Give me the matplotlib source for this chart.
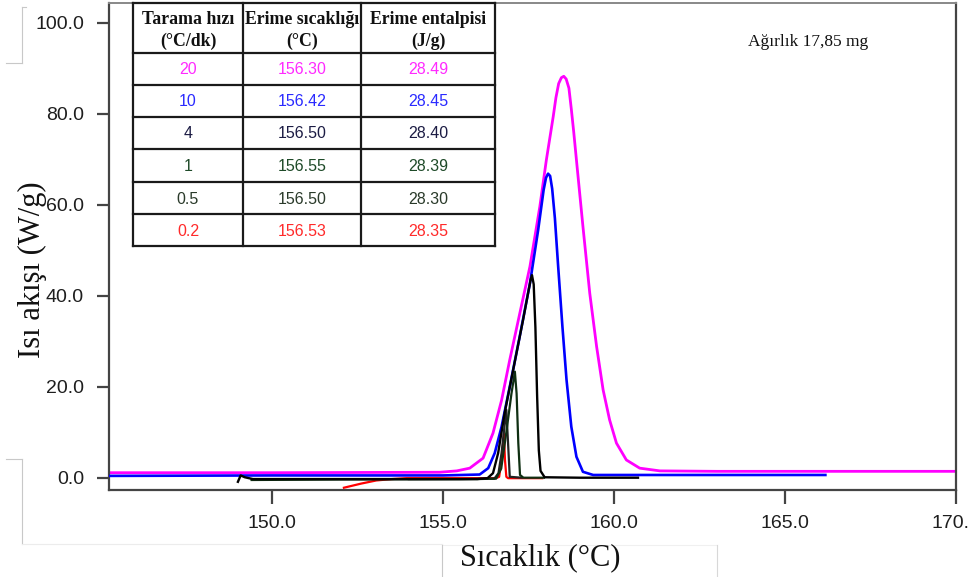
import matplotlib
matplotlib.use("Agg")
import matplotlib.pyplot as plt
from matplotlib.patches import Rectangle

# ---------------- data ----------------
# 20 °C/dk (magenta)
t20 = [145.23, 150.0, 154.9, 155.4, 155.78, 156.17, 156.46, 156.71, 156.95, 157.24, 157.54,
       157.83, 158.02, 158.22, 158.3, 158.38, 158.46, 158.53, 158.6, 158.68, 158.75, 158.82,
       158.9, 159.09, 159.29, 159.49, 159.68, 159.87, 160.07, 160.36, 160.75, 161.34, 163.0, 170.0]
q20 = [1.1, 1.1, 1.2, 1.5, 2.1, 4.3, 9.8, 17.0, 25.9, 36.0, 46.4,
       59.6, 69.8, 79.3, 83.5, 86.6, 87.9, 88.2, 87.6, 85.6, 81.0, 76.0,
       69.8, 55.2, 40.5, 28.8, 19.3, 12.7, 7.6, 3.9, 2.1, 1.5, 1.4, 1.4]
# 10 °C/dk (blue)
t10 = [145.23, 150.0, 155.0, 156.07, 156.32, 156.51, 156.71, 156.95, 157.24, 157.54, 157.78,
       157.94, 158.01, 158.07, 158.13, 158.19, 158.27, 158.36, 158.49, 158.61, 158.75, 158.9,
       159.09, 159.39, 162.0, 166.18]
q10 = [0.4, 0.5, 0.5, 0.7, 2.1, 5.4, 11.2, 20.0, 31.0, 42.7, 54.4,
       63.2, 65.9, 66.8, 66.3, 63.5, 57.0, 47.0, 33.2, 21.5, 11.2, 4.6,
       1.3, 0.6, 0.6, 0.6]
# 4 °C/dk (black)
t4 = [149.0, 149.08, 149.2, 149.44, 152.0, 156.0, 156.3, 156.46, 156.61, 156.8, 157.05,
      157.34, 157.56, 157.6, 157.65, 157.7, 157.75, 157.8, 157.85, 157.97, 159.0, 160.7]
q4 = [-0.9, 0.5, 0.1, -0.3, -0.3, -0.3, -0.1, 1.0, 5.4, 14.2, 23.7,
      34.7, 43.5, 44.5, 42.5, 33.0, 18.0, 6.0, 1.5, 0.1, 0.0, 0.0]
# 1 °C/dk (dark green)
t1 = [149.4, 152.0, 156.0, 156.55, 156.7, 156.85, 157.0, 157.1, 157.15, 157.2, 157.25,
      157.35, 157.95]
q1 = [-0.5, -0.4, -0.3, -0.2, 2.0, 10.0, 18.5, 23.3, 18.5, 7.6, 0.6,
      0.0, 0.0]
# 0.5 °C/dk (dark grey)
t05 = [154.0, 155.5, 156.5, 156.62, 156.71, 156.85, 156.9, 156.95, 157.3]
q05 = [-0.3, -0.3, -0.2, 1.0, 5.4, 14.9, 7.6, 0.2, 0.0]
# 0.2 °C/dk (red)
t02 = [152.1, 152.6, 153.05, 153.5, 153.93, 155.5, 156.55, 156.64, 156.71, 156.78, 156.81,
       156.85, 156.9, 157.9]
q02 = [-2.2, -1.3, -0.6, -0.3, -0.1, -0.1, -0.1, 0.2, 3.9, 9.6, 3.9,
       0.2, -0.1, -0.1]

# table contents
rates = ["20", "10", "4", "1", "0.5", "0.2"]
melt_temps = ["156.30", "156.42", "156.50", "156.55", "156.50", "156.53"]
melt_enth = ["28.49", "28.45", "28.40", "28.39", "28.30", "28.35"]
row_colors = ["#ff2aff", "#2a2aff", "#1c1c44", "#1e4a28", "#2a3a2a", "#ff2a2a"]

x_ticks = [150.0, 155.0, 160.0, 165.0, 170.0]
y_ticks = [0.0, 20.0, 40.0, 60.0, 80.0, 100.0]

# ---------------- figure ----------------
W, H = 969, 577
fig = plt.figure(figsize=(W / 100, H / 100), dpi=100)
fig.patch.set_facecolor("white")

ax_l, ax_r, ax_t, ax_b = 109, 956, 3, 490
ax = fig.add_axes([ax_l / W, 1 - ax_b / H, (ax_r - ax_l) / W, (ax_b - ax_t) / H])
ax.set_xlim(145.23, 170.0)
ax.set_ylim(-2.7, 104.3)

ax.plot(t20, q20, color="#ff00ff", lw=2.0, zorder=2)
ax.plot(t10, q10, color="#0000ff", lw=1.9, zorder=3)
ax.plot(t02, q02, color="#ff0000", lw=1.6, zorder=4)
ax.plot(t05, q05, color="#222222", lw=1.6, zorder=5)
ax.plot(t1, q1, color="#0f2f12", lw=1.6, zorder=5)
ax.plot(t4, q4, color="#000000", lw=1.7, zorder=6)

ax.set_xticks(x_ticks)
ax.set_xticklabels([f"{v:.1f}" for v in x_ticks])
ax.set_yticks(y_ticks)
ax.set_yticklabels([f"{v:.1f}" for v in y_ticks])
for lab in ax.get_xticklabels() + ax.get_yticklabels():
    lab.set_fontfamily("Liberation Sans")
    lab.set_fontsize(14)
    lab.set_color("#1e1e1e")
ax.tick_params(axis="x", direction="out", length=10, width=1.6, color="#444444", pad=8)
ax.tick_params(axis="y", direction="out", length=9, width=1.6, color="#444444", pad=9)
for side in ["left", "bottom", "right"]:
    ax.spines[side].set_color("#444444")
    ax.spines[side].set_linewidth(1.6)
ax.spines["top"].set_color("#888888")
ax.spines["top"].set_linewidth(1.4)

# ---------------- overlay in pixel coordinates ----------------
ov = fig.add_axes([0, 0, 1, 1], zorder=10)
ov.set_xlim(0, W)
ov.set_ylim(H, 0)
ov.axis("off")
ov.patch.set_alpha(0)

# axis titles
ov.text(540, 565, "Sıcaklık (°C)", family="Liberation Serif", fontsize=22,
        ha="center", va="baseline", color="#111111")
ov.text(32, 270, "Isı akışı (W/g)", family="Liberation Serif", fontsize=22,
        ha="center", va="center", rotation=90, color="#111111")
ov.text(748, 42, "Ağırlık 17,85 mg", family="Liberation Serif", fontsize=12.5,
        ha="left", va="center", color="#111111")

# table
col_x = [133, 243, 361, 495]
row_y = [3, 53, 85, 117, 149, 182, 214, 246]
ov.add_patch(Rectangle((col_x[0], row_y[0]), col_x[-1] - col_x[0], row_y[-1] - row_y[0],
                       facecolor="white", edgecolor="none", zorder=1))
for x in col_x:
    ov.plot([x, x], [row_y[0], row_y[-1]], color="#1a1a1a", lw=1.6, zorder=3,
            solid_capstyle="projecting")
for y in row_y:
    ov.plot([col_x[0], col_x[-1]], [y, y], color="#1a1a1a", lw=1.6, zorder=3,
            solid_capstyle="projecting")

hdr = dict(family="Liberation Serif", fontsize=12.8, fontweight="bold", color="#111111",
           va="center", zorder=4)
cx = [(col_x[i] + col_x[i + 1]) / 2 for i in range(3)]
ov.text(cx[0], 19, "Tarama hızı", ha="center", **hdr)
ov.text(cx[0], 41, "(°C/dk)", ha="center", **hdr)
t_clip = ov.text(245, 19, "Erime sıcaklığı", ha="left", clip_on=True, **hdr)
clip_rect = Rectangle((col_x[1], row_y[0]), col_x[2] - col_x[1] - 1, row_y[1] - row_y[0],
                      transform=ov.transData, facecolor="none", edgecolor="none")
t_clip.set_clip_path(clip_rect)
ov.text(cx[1], 41, "(°C)", ha="center", **hdr)
ov.text(cx[2], 19, "Erime entalpisi", ha="center", **hdr)
ov.text(cx[2], 41, "(J/g)", ha="center", **hdr)

for i in range(len(rates)):
    yc = (row_y[i + 1] + row_y[i + 2]) / 2 + 1
    for j, val in enumerate([rates[i], melt_temps[i], melt_enth[i]]):
        ov.text(cx[j], yc, val, family="Liberation Sans", fontsize=11.5,
                color=row_colors[i], ha="center", va="center", zorder=4)

# faint scan artifacts (frame fragments)
g = "#c8c8c8"
ov.plot([21.7, 21.7], [7, 62.7], color=g, lw=0.8)
ov.plot([6, 21.7], [62.7, 62.7], color=g, lw=0.8)
ov.plot([21.7, 26], [7, 7], color=g, lw=0.8)
ov.plot([6, 21.7], [459.3, 459.3], color=g, lw=0.8)
ov.plot([21.7, 21.7], [459.3, 543.5], color=g, lw=0.8)
ov.plot([21.7, 441.7], [543.5, 543.5], color="#ececec", lw=0.8)
ov.plot([441.7, 716.7], [545, 545], color="#f0f0f0", lw=0.8)
ov.plot([441.7, 441.7], [545, 577], color=g, lw=0.8)
ov.plot([716.7, 716.7], [545, 577], color="#d8d8d8", lw=0.8)

fig.savefig("out.png", dpi=100, facecolor="white")
